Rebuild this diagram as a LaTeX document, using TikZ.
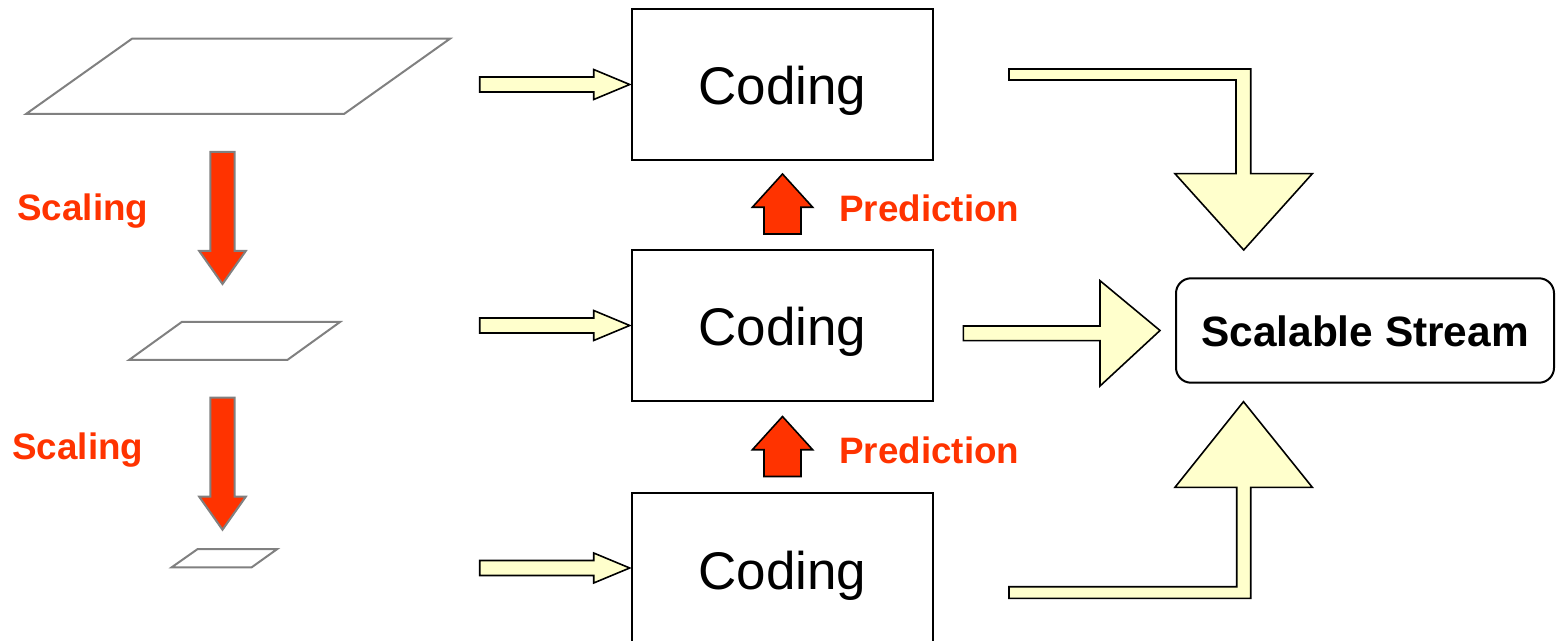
\documentclass[tikz,border=0pt]{standalone}
\usepackage{fontspec}
\setmainfont{Liberation Sans}
\definecolor{accent}{HTML}{FF3300}
\definecolor{paleyellow}{HTML}{FFFFCC}
\definecolor{planegray}{HTML}{808080}
\begin{document}
\begin{tikzpicture}[x=0.5pt,y=-0.5pt,
  codebox/.style={draw=black,line width=1pt,minimum width=150.8pt,minimum height=75.5pt,inner sep=0pt},
  codetxt/.style={font=\fontsize{26.5}{30}\selectfont,inner sep=0pt,anchor=base},
  streambox/.style={draw=black,line width=1pt,rounded corners=7.5pt,minimum width=189pt,minimum height=52.2pt,inner sep=0pt},
  streamtxt/.style={font=\fontsize{21.2}{25}\selectfont\bfseries,inner sep=0pt,anchor=base},
  redlabel/.style={font=\fontsize{18.4}{22}\selectfont\bfseries,text=accent,inner sep=0pt,anchor=base west},
  plane/.style={draw=planegray,line width=1pt,line join=miter},
  yarrow/.style={draw=black,fill=paleyellow,line width=0.8pt,line join=miter},
  uparrow/.style={draw=black,fill=accent,line width=0.8pt,line join=miter},
  downarrow/.style={draw=planegray,fill=accent,line width=1pt,line join=miter}]
\useasboundingbox (0,0) rectangle (1558,641);

% coding blocks
\node[codebox] (c1) at (782.5,84.5) {};
\node[codebox] (c2) at (782.5,325.5) {};
\node[codebox] (c3) at (782.5,568) {};
\node[codetxt] (t1) at (782.5,105) {Coding};
\node[codetxt] (t2) at (782.5,346) {Coding};
\node[codetxt] (t3) at (782.5,589) {Coding};

% output stream
\node[streambox] (st) at (1365,330.5) {};
\node[streamtxt] (stt) at (1365,347) {Scalable Stream};

% image planes at three resolutions
\draw[plane] (26,114) -- (132,38.7) -- (450,38.7) -- (344,114) -- cycle;
\draw[plane] (129,360) -- (181.7,322) -- (340,322) -- (287.3,360) -- cycle;
\draw[plane] (171.7,567.3) -- (197.7,549) -- (277.3,549) -- (251.7,567.3) -- cycle;

% downscaling arrows
\coordinate (d1) at (222.5,152);
\coordinate (d2) at (222.5,397.7);
\foreach \p in {d1,d2}
  \draw[downarrow,shift={(\p)}] (-12.2,0) -- (12.2,0) -- (12.2,99) -- (23.3,99)
    -- (0,132) -- (-23.3,99) -- (-12.2,99) -- cycle;
\node[redlabel] (s1) at (17,220.5) {Scaling};
\node[redlabel] (s2) at (12,459) {Scaling};

% inputs into the coding blocks
\foreach \b in {c1,c2,c3}
  \draw[yarrow,shift={(\b.west)}] (-151,-7.5) -- (-37,-7.5) -- (-37,-15) -- (-1,0)
    -- (-37,15) -- (-37,7.5) -- (-151,7.5) -- cycle;

% inter-layer prediction
\foreach \b in {c2,c3}
  \draw[uparrow,shift={(\b.north)}] (-18.5,-15) -- (18.5,-15) -- (18.5,-41.7) -- (30.2,-41.7)
    -- (0,-75) -- (-30.2,-41.7) -- (-18.5,-41.7) -- cycle;
\node[redlabel] (p1) at (839,222) {Prediction};
\node[redlabel] (p2) at (839,464) {Prediction};

% merging into the scalable stream
\coordinate (m1) at (1243.7,250);
\draw[yarrow] (1009,69) -- (1250.7,69) -- (1250.7,173.7) -- (1312.3,173.7) -- (m1)
  -- (1175,173.7) -- (1236,173.7) -- (1236,80) -- (1009,80) -- cycle;
\coordinate (m2) at ([xshift=-7.5pt]st.west);
\draw[yarrow] (963.3,326) -- (1100,326) -- (1100,280.7) -- (m2)
  -- (1100,386) -- (1100,340.7) -- (963.3,340.7) -- cycle;
\coordinate (m3) at (1243.5,401.7);
\draw[yarrow] (1009,598.3) -- (1250.7,598.3) -- (1250.7,487.3) -- (1312.3,487.3) -- (m3)
  -- (1175,487.3) -- (1236.7,487.3) -- (1236.7,586.7) -- (1009,586.7) -- cycle;
\end{tikzpicture}
\end{document}
